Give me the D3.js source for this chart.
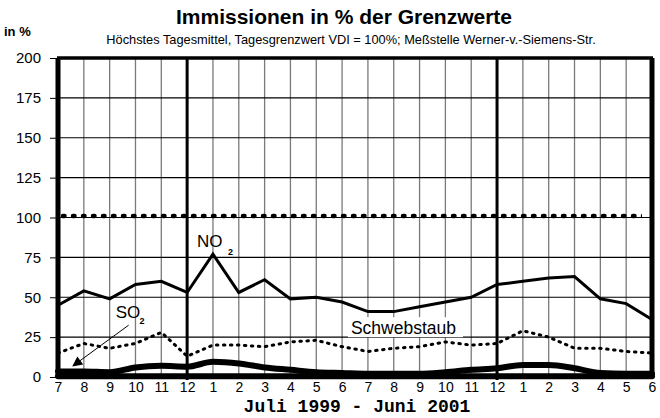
<!DOCTYPE html>
<html>
<head>
<meta charset="utf-8">
<script src="https://cdn.jsdelivr.net/npm/d3@7"></script>
<style>
  body { margin: 0; background: #fff; }
  text { font-family: "Liberation Sans", Arial, sans-serif; }
</style>
</head>
<body>
<div id="chart"></div>
<script>
// Monate Juli 1999 - Juni 2001
var months = ["7","8","9","10","11","12","1","2","3","4","5","6",
              "7","8","9","10","11","12","1","2","3","4","5","6"];
var no2 =   [45, 54, 49, 58, 60, 53, 77, 53, 61, 49, 50, 47,
             41, 41, 44, 47, 50, 58, 60, 62, 63, 49, 46, 36];
var staub = [15, 21, 18, 21, 28, 13, 20, 20, 19, 22, 23, 19,
             16, 18, 19, 22, 20, 21, 29, 25, 18, 18, 16, 15];
var so2 =   [3.5, 3.5, 3, 6, 7, 6.5, 9.5, 8.5, 6, 4.5, 3, 2.5,
             2, 2, 2, 3, 4.5, 5.5, 7.5, 7.5, 5.5, 2.5, 2, 2];
var basis = [0.5, 0.5, 0.5, 0.5, 0.5, 0.5, 0.5, 0.5, 0.5, 0.5, 0.5, 0.5,
             0.5, 0.5, 0.5, 0.5, 0.5, 0.5, 0.5, 0.5, 0.5, 0.5, 0.5, 0.5];
var grenzwert = 101;
var yTicks = [0, 25, 50, 75, 100, 125, 150, 175, 200];

var svgWidth = 660;
var svgHeight = 418;
var margin = { top: 58, right: 8, bottom: 41, left: 58 };
var width = svgWidth - margin.left - margin.right;
var height = svgHeight - margin.top - margin.bottom;

var svg = d3.select("#chart").append("svg")
  .attr("width", svgWidth)
  .attr("height", svgHeight);

var defs = svg.append("defs");
defs.append("clipPath").attr("id", "inner")
  .append("rect").attr("x", 3).attr("y", 0).attr("width", width - 13).attr("height", height);

var chartGroup = svg.append("g")
  .attr("transform", `translate(${margin.left}, ${margin.top})`);

var x = d3.scalePoint()
  .domain(d3.range(months.length))
  .range([0, width]);

var y = d3.scaleLinear()
  .domain([0, 200])
  .range([height, 0]);

// vertical grid (grey)
chartGroup.selectAll(".vgrid").data(d3.range(months.length))
  .enter().append("line")
  .attr("x1", d => x(d)).attr("x2", d => x(d))
  .attr("y1", 0).attr("y2", height)
  .attr("stroke", "#7a7a7a")
  .attr("stroke-width", 1.3);

// horizontal grid
chartGroup.selectAll(".hgrid").data(yTicks)
  .enter().append("line")
  .attr("x1", 0).attr("x2", width)
  .attr("y1", d => y(d)).attr("y2", d => y(d))
  .attr("stroke", "#000")
  .attr("stroke-width", 1.2);

// year separators at december
[5, 17].forEach(function(i) {
  chartGroup.append("line")
    .attr("x1", x(i)).attr("x2", x(i))
    .attr("y1", 0).attr("y2", height + 3)
    .attr("stroke", "#000")
    .attr("stroke-width", 3);
});

// frame
chartGroup.append("line").attr("x1", -1).attr("x2", width + 1).attr("y1", 0).attr("y2", 0)
  .attr("stroke", "#000").attr("stroke-width", 3.5);
chartGroup.append("line").attr("x1", 0).attr("x2", 0).attr("y1", 0).attr("y2", height)
  .attr("stroke", "#000").attr("stroke-width", 5);
chartGroup.append("line").attr("x1", width).attr("x2", width).attr("y1", 0).attr("y2", height)
  .attr("stroke", "#000").attr("stroke-width", 5);

// y axis
var leftAxis = d3.axisLeft(y).tickValues(yTicks).tickSize(8).tickPadding(9);
var yAxis = chartGroup.append("g").call(leftAxis);
yAxis.select(".domain").remove();
yAxis.selectAll("text").style("font-size", "15px").attr("fill", "#000")
  .style("font-family", "'Liberation Sans', Arial, sans-serif");

// x axis labels
var bottomAxis = d3.axisBottom(x).tickSize(0).tickPadding(5).tickFormat(i => months[i]);
var xAxis = chartGroup.append("g").attr("transform", `translate(0, ${height})`).call(bottomAxis);
xAxis.select(".domain").remove();
xAxis.selectAll("text").style("font-size", "14px").attr("fill", "#000")
  .style("font-family", "'Liberation Sans', Arial, sans-serif");

var line = d3.line().x((d, i) => x(i)).y(d => y(d));

// grenzwert line
chartGroup.append("path")
  .datum(months.map(() => grenzwert))
  .attr("d", line)
  .attr("fill", "none")
  .attr("stroke", "#000")
  .attr("stroke-width", 4.5)
  .attr("stroke-linecap", "round")
  .attr("stroke-dasharray", "1.5,8.5")
  .attr("stroke-dashoffset", -5)
  .attr("clip-path", "url(#inner)");

// Schwebstaub
chartGroup.append("path")
  .datum(staub)
  .attr("d", line)
  .attr("fill", "none")
  .attr("stroke", "#000")
  .attr("stroke-width", 3)
  .attr("stroke-linecap", "round")
  .attr("stroke-dasharray", "1.5,5.5");

// NO2
chartGroup.append("path")
  .datum(no2)
  .attr("d", line)
  .attr("fill", "none")
  .attr("stroke", "#000")
  .attr("stroke-width", 3);

// base line
chartGroup.append("path")
  .datum(basis)
  .attr("d", line)
  .attr("fill", "none")
  .attr("stroke", "#000")
  .attr("stroke-width", 6)
  .attr("stroke-linecap", "round");

// SO2
chartGroup.append("path")
  .datum(so2)
  .attr("d", d3.line().curve(d3.curveMonotoneX).x((d, i) => x(i)).y(d => y(d)))
  .attr("fill", "none")
  .attr("stroke", "#000")
  .attr("stroke-width", 6)
  .attr("stroke-linecap", "round");

// labels
chartGroup.append("text")
  .attr("x", x(6) - 16).attr("y", y(81.5))
  .style("font-size", "17px").text("NO");
chartGroup.append("text")
  .attr("x", x(6) + 15).attr("y", y(76.5))
  .style("font-size", "9px").style("font-weight", "bold").text("2");

chartGroup.append("text")
  .attr("x", x(2) + 6).attr("y", y(37))
  .style("font-size", "17px").text("SO");
chartGroup.append("text")
  .attr("x", x(3) + 4).attr("y", y(33))
  .style("font-size", "9px").style("font-weight", "bold").text("2");

// arrow
defs.append("marker")
  .attr("id", "arrow")
  .attr("viewBox", "0 0 10 10")
  .attr("refX", 9).attr("refY", 5)
  .attr("markerWidth", 15).attr("markerHeight", 10)
  .attr("markerUnits", "userSpaceOnUse")
  .attr("orient", "auto")
  .append("path").attr("d", "M0,0 L10,5 L0,10 z").attr("fill", "#000");

chartGroup.append("line")
  .attr("x1", x(2) + 19).attr("y1", y(32.5))
  .attr("x2", x(0) + 15).attr("y2", y(7))
  .attr("stroke", "#000").attr("stroke-width", 1)
  .attr("marker-end", "url(#arrow)");

// Schwebstaub label with white box
chartGroup.append("rect")
  .attr("x", x(12) - 20).attr("y", y(37.5))
  .attr("width", 115).attr("height", 20)
  .attr("fill", "#fff");
chartGroup.append("text")
  .attr("x", x(12) - 17).attr("y", y(27))
  .style("font-size", "17.5px").text("Schwebstaub");

// titles
svg.append("text")
  .attr("x", 344).attr("y", 24)
  .attr("text-anchor", "middle")
  .style("font-size", "21px").style("font-weight", "bold")
  .text("Immissionen in % der Grenzwerte");

svg.append("text")
  .attr("x", 351).attr("y", 44)
  .attr("text-anchor", "middle")
  .style("font-size", "12.8px")
  .text("Höchstes Tagesmittel, Tagesgrenzwert  VDI = 100%; Meßstelle Werner-v.-Siemens-Str.");

svg.append("text")
  .attr("x", 4).attr("y", 36)
  .style("font-size", "13px").style("font-weight", "bold")
  .text("in %");

svg.append("text")
  .attr("x", 357).attr("y", 412)
  .attr("text-anchor", "middle")
  .style("font-family", "'Liberation Mono', 'Courier New', monospace")
  .style("font-size", "18px").style("font-weight", "bold")
  .text("Juli 1999 - Juni 2001");
</script>
</body>
</html>
